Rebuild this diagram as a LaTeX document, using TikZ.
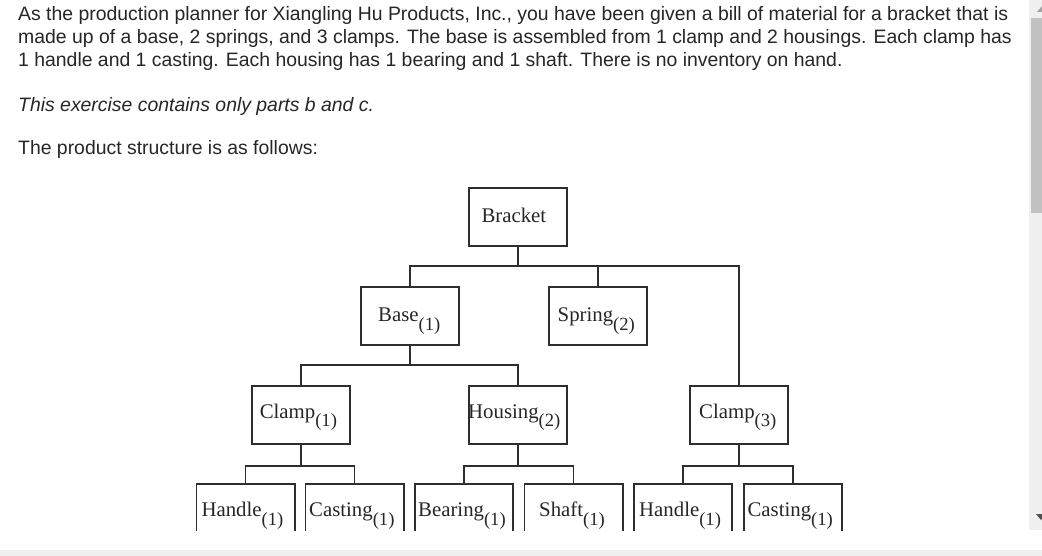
\documentclass[tikz,border=0pt]{standalone}
\usepackage{fontspec}
\setmainfont{Liberation Serif}
\newfontfamily\arialf{Liberation Sans}
\definecolor{ink}{HTML}{262626}
\definecolor{linec}{HTML}{2E2E2E}
\definecolor{track}{HTML}{F0F0F0}
\definecolor{thumb}{HTML}{C1C1C1}
\definecolor{arrowc}{HTML}{505050}
\definecolor{arrowl}{HTML}{A3A3A3}
\newcommand{\subq}[1]{\raisebox{-8.5bp}{\fontsize{18.6bp}{18.6bp}\selectfont(#1)}}
\begin{document}
\begin{tikzpicture}[x=1bp,y=-1bp,
  para/.style={anchor=base west, inner sep=0, text=ink, font=\arialf\fontsize{19.4bp}{23bp}\selectfont},
  partbox/.style={draw=linec, line width=1.6bp, minimum width=98.4bp, minimum height=58.4bp, inner sep=0},
  lbl/.style={anchor=base west, inner sep=0, text=ink, font=\fontsize{20.8bp}{22bp}\selectfont},
  conn/.style={draw=linec, line width=1.6bp},
]
\useasboundingbox (0,0) rectangle (1042,556);
\fill[white] (0,0) rectangle (1042,556);

% paragraph text
\node[para] (p1) at (18,20.7) {As the production planner for Xiangling Hu Products, Inc., you have been given a bill of material for a bracket that is};
\node[para] (p2) at (18,43.5) {made up of a base, 2 springs, and 3 clamps. The base is assembled from 1 clamp and 2 housings. Each clamp has};
\node[para] (p3) at (18,66.5) {1 handle and 1 casting. Each housing has 1 bearing and 1 shaft. There is no inventory on hand.};
\node[para, font=\arialf\itshape\fontsize{19.4bp}{23bp}\selectfont] (p4) at (18,111.7) {This exercise contains only parts b and c.};
\node[para] (p5) at (18,155) {The product structure is as follows:};

\begin{scope}
\clip (0,0) rectangle (1029,530);
% boxes
\node[partbox] (bracket) at (518,217) {};
\node[partbox] (base) at (410,316) {};
\node[partbox] (spring) at (598,316) {};
\node[partbox] (clamp1) at (301,415) {};
\node[partbox] (housing) at (518,415) {};
\node[partbox] (clamp3) at (739,415) {};
\node[partbox] (handle1) at (245.5,513.3) {};
\node[partbox] (casting1) at (354.5,513.3) {};
\node[partbox] (bearing) at (464,513.3) {};
\node[partbox] (shaft) at (573.5,513.3) {};
\node[partbox] (handle2) at (683,513.3) {};
\node[partbox] (casting2) at (793,513.3) {};

% labels
\node[lbl] (tbracket) at (481.3,222.3) {Bracket};
\node[lbl] (tbase) at (378,321.7) {Base\subq{1}};
\node[lbl] (tspring) at (557.5,321.7) {Spring\subq{2}};
\node[lbl] (tclamp1) at (259.6,418.3) {Clamp\subq{1}};
\node[lbl] (thousing) at (468,418.3) {Housing\subq{2}};
\node[lbl] (tclamp3) at (699,418.3) {Clamp\subq{3}};
\node[lbl] (thandle1) at (201.3,516.7) {Handle\subq{1}};
\node[lbl] (tcasting1) at (309,516.7) {Casting\subq{1}};
\node[lbl] (tbearing) at (418,516.7) {Bearing\subq{1}};
\node[lbl] (tshaft) at (539,516.7) {Shaft\subq{1}};
\node[lbl] (thandle2) at (639,516.7) {Handle\subq{1}};
\node[lbl] (tcasting2) at (747.4,516.7) {Casting\subq{1}};

% bus levels
\coordinate (bus0) at (0,266);
\coordinate (bus1) at (0,365);
\coordinate (bus2) at (0,466);

% connectors
\draw[conn] (bracket.south) -- (bracket.south |- bus0);
\draw[conn] (base.north) |- (bus0 -| clamp3.north) -- (clamp3.north);
\draw[conn] (spring.north) -- (spring.north |- bus0);

\draw[conn] (base.south) -- (base.south |- bus1);
\draw[conn] (clamp1.north) |- (bus1 -| housing.north) -- (housing.north);

\draw[conn] (clamp1.south) -- (clamp1.south |- bus2);
\draw[conn] (handle1.north) |- (bus2 -| casting1.north) -- (casting1.north);

\draw[conn] (housing.south) -- (housing.south |- bus2);
\draw[conn] (bearing.north) |- (bus2 -| shaft.north) -- (shaft.north);

\draw[conn] (clamp3.south) -- (clamp3.south |- bus2);
\draw[conn] (handle2.north) |- (bus2 -| casting2.north) -- (casting2.north);
\end{scope}

% scrollbar and bottom strip
\fill[track] (1029,0) rectangle (1042,530);
\fill[thumb] (1031,18) rectangle (1042,213);
\fill[arrowl] (1037,12) -- (1042,6) -- (1042,12) -- cycle;
\fill[arrowc] (1036,514) -- (1046,514) -- (1041,520) -- cycle;
\fill[track] (0,550) rectangle (1042,556);
\end{tikzpicture}
\end{document}
